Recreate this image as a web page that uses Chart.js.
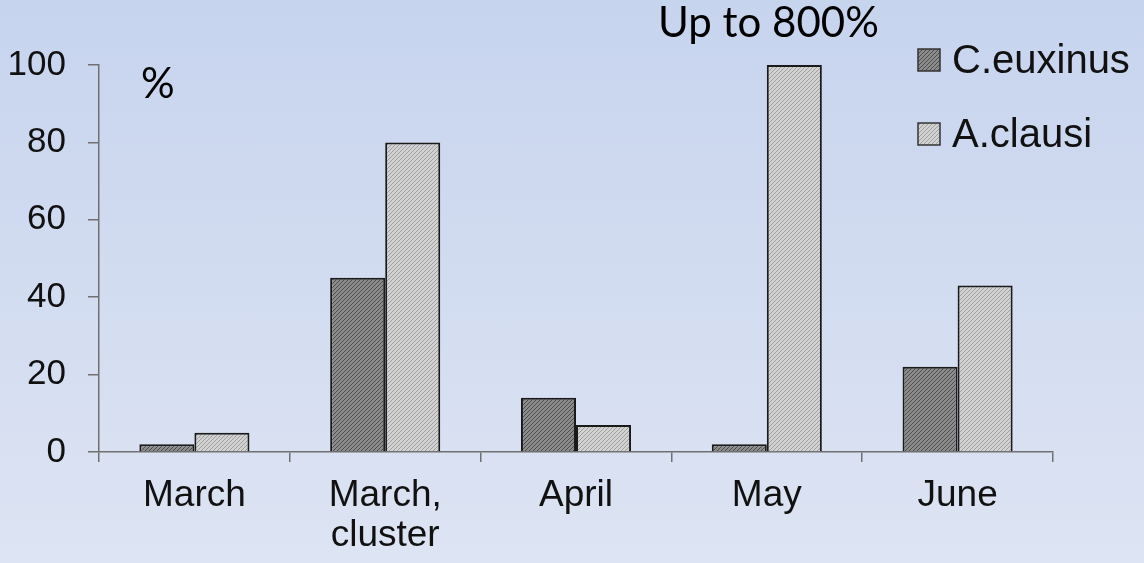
<!DOCTYPE html>
<html>
<head>
<meta charset="utf-8">
<script src="https://cdn.jsdelivr.net/npm/chart.js@4"></script>
<style>
    body { margin: 0; }
    #wrap {
        width: 1144px;
        height: 563px;
        background: linear-gradient(#c7d4ee, #dde4f3);
    }
</style>
</head>
<body>
<div id="wrap"><canvas id="zooChart" width="1144" height="563"></canvas></div>
<script>
// data
const A_months = ["March", ["March,", "cluster"], "April", "May", "June"];
const A_euxinus = [2, 45, 14, 2, 22];
const A_clausi = [5, 80, 7, 100, 43];   // May actually goes up to 800%
const A_yTicks = [0, 20, 40, 60, 80, 100];
const A_seriesNames = ["C.euxinus", "A.clausi"];
const S_note = "Up to 800%";
const S_unit = "%";

function makeHatch(S_base, S_line) {
    const c = document.createElement("canvas");
    c.width = 4;
    c.height = 4;
    const g = c.getContext("2d");
    g.fillStyle = S_base;
    g.fillRect(0, 0, 4, 4);
    g.strokeStyle = S_line;
    g.lineWidth = 1;
    g.beginPath();
    g.moveTo(0, 4); g.lineTo(4, 0);
    g.moveTo(-1, 1); g.lineTo(1, -1);
    g.moveTo(3, 5); g.lineTo(5, 3);
    g.stroke();
    return g.createPattern(c, "repeat");
}

const darkHatch = makeHatch("#8c8c8c", "#4c4c4c");
const lightHatch = makeHatch("#d2d2d2", "#9e9e9e");

// legend + free text drawn by hand, the chart.js legend can't sit over the plot
const overlayText = {
    id: "overlayText",
    afterDraw(chart) {
        const ctx = chart.ctx;
        ctx.save();
        const A_rows = [60, 134];
        chart.data.datasets.forEach((ds, i) => {
            const y = A_rows[i];
            ctx.fillStyle = ds.backgroundColor;
            ctx.fillRect(918, y - 11, 22, 22);
            ctx.strokeStyle = "#333";
            ctx.lineWidth = 1.5;
            ctx.strokeRect(918, y - 11, 22, 22);
            ctx.fillStyle = "#111";
            ctx.font = "40px 'Liberation Sans', Arial, sans-serif";
            ctx.textBaseline = "middle";
            ctx.textAlign = "left";
            ctx.fillText(ds.label, 952, y + 2);
        });
        ctx.font = "42px Lato, 'Open Sans', sans-serif";
        ctx.fillStyle = "#000";
        ctx.textBaseline = "alphabetic";
        ctx.fillText(S_note, 658, 37);
        ctx.fillText(S_unit, 141, 98);
        ctx.restore();
    }
};

new Chart("zooChart", {
    type: "bar",
    data: {
        labels: A_months,
        datasets: [{
            label: A_seriesNames[0],
            data: A_euxinus,
            backgroundColor: darkHatch,
            borderColor: "#1a1a1a",
            borderWidth: 2
        }, {
            label: A_seriesNames[1],
            data: A_clausi,
            backgroundColor: lightHatch,
            borderColor: "#1a1a1a",
            borderWidth: 2
        }]
    },
    options: {
        responsive: false,
        animation: false,
        layout: { padding: { top: 65, right: 91, left: 0, bottom: 0 } },
        datasets: {
            bar: { categoryPercentage: 0.577, barPercentage: 1 }
        },
        plugins: {
            legend: { display: false },
            tooltip: { enabled: false }
        },
        scales: {
            x: {
                grid: { drawOnChartArea: false, drawTicks: true, tickLength: 10, color: "#707070", lineWidth: 1.5 },
                border: { display: true, color: "#707070", width: 1.5 },
                ticks: {
                    color: "#111",
                    padding: 13,
                    font: { family: "'Liberation Sans', Arial, sans-serif", size: 37, lineHeight: 1.1 }
                },
                afterFit(scale) { scale.height = 111; }
            },
            y: {
                min: 0,
                max: 100,
                afterBuildTicks(scale) { scale.ticks = A_yTicks.map(v => ({ value: v })); },
                grid: { drawOnChartArea: false, drawTicks: true, tickLength: 11, color: "#707070", lineWidth: 1.5 },
                border: { display: true, color: "#707070", width: 1.5 },
                ticks: {
                    color: "#111",
                    padding: 22,
                    font: { family: "'Liberation Sans', Arial, sans-serif", size: 35 }
                },
                afterFit(scale) { scale.width = 99; }
            }
        }
    },
    plugins: [overlayText]
});
</script>
</body>
</html>
